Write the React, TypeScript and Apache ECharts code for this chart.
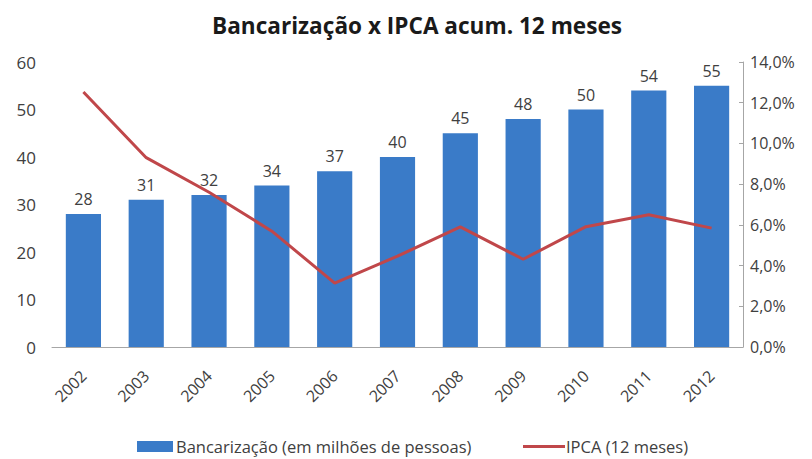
import React, { useEffect, useRef } from "react";
import * as echarts from "echarts";

const years = ["2002", "2003", "2004", "2005", "2006", "2007", "2008", "2009", "2010", "2011", "2012"];
const bancarizacao = [28, 31, 32, 34, 37, 40, 45, 48, 50, 54, 55];
const ipca = [12.53, 9.3, 7.6, 5.69, 3.14, 4.46, 5.9, 4.31, 5.91, 6.5, 5.84];
const barName = "Bancarização (em milhões de pessoas)";
const lineName = "IPCA (12 meses)";
const titleText = "Bancarização x IPCA acum. 12 meses";

const FONT = "'Open Sans', 'Noto Sans', sans-serif";
const TXT = "#404040";

export default function App() {
  const ref = useRef<HTMLDivElement>(null);
  useEffect(() => {
    const chart = echarts.init(ref.current!, null, { renderer: "svg" });
    chart.setOption({
      animation: false,
      textStyle: { fontFamily: FONT, color: TXT },
      title: {
        text: titleText,
        left: 207,
        top: 9,
        textStyle: { fontFamily: FONT, fontSize: 22.6, fontWeight: "bold", color: "#1a1a1a" },
      },
      grid: { left: 52, right: 69, top: 62, bottom: 112, containLabel: false },
      legend: [
        {
          data: [{ name: barName, icon: "rect" }],
          left: 137,
          top: 438,
          padding: 0,
          itemWidth: 36,
          itemHeight: 11,
          itemGap: 4,
          textStyle: { fontFamily: FONT, fontSize: 16.5, color: TXT, padding: [0, 0, 0, -2] },
        },
        {
          data: [{ name: lineName, icon: "rect" }],
          left: 523,
          top: 438,
          padding: 0,
          itemWidth: 42,
          itemHeight: 3,
          textStyle: { fontFamily: FONT, fontSize: 16.5, color: TXT, padding: [0, 0, 0, -4] },
        },
      ],
      xAxis: {
        type: "category",
        data: years,
        axisLine: { show: true, lineStyle: { color: "#A6A6A6", width: 1 } },
        axisTick: { show: false },
        axisLabel: {
          rotate: 45,
          margin: 26,
          fontFamily: FONT,
          fontSize: 16,
          color: TXT,
        },
      },
      yAxis: [
        {
          type: "value",
          min: 0,
          max: 60,
          interval: 10,
          axisLine: { show: false },
          axisTick: { show: false },
          splitLine: { show: false },
          axisLabel: { fontFamily: FONT, fontSize: 17, color: TXT, margin: 16 },
        },
        {
          type: "value",
          min: 0,
          max: 14,
          interval: 2,
          position: "right",
          axisLine: { show: true, lineStyle: { color: "#A6A6A6" } },
          axisTick: { show: true, inside: true, length: 4, lineStyle: { color: "#A6A6A6" } },
          splitLine: { show: false },
          axisLabel: {
            fontFamily: FONT,
            fontSize: 16,
            color: TXT,
            margin: 7,
            formatter: (v: number) => v.toFixed(1).replace(".", ",") + "%",
          },
        },
      ],
      series: [
        {
          name: barName,
          type: "bar",
          data: bancarizacao,
          barWidth: "56%",
          itemStyle: { color: "#3A7BC8" },
          label: {
            show: true,
            position: "top",
            distance: 7,
            fontFamily: FONT,
            fontSize: 16,
            color: TXT,
          },
        },
        {
          name: lineName,
          type: "line",
          yAxisIndex: 1,
          data: ipca,
          symbol: "none",
          lineStyle: { color: "#C0474A", width: 3 },
          itemStyle: { color: "#C0474A" },
        },
      ],
    });
    return () => chart.dispose();
  }, []);
  return <div ref={ref} style={{ width: 812, height: 459, position: "absolute", left: 0, top: 0, background: "#fff" }} />;
}
